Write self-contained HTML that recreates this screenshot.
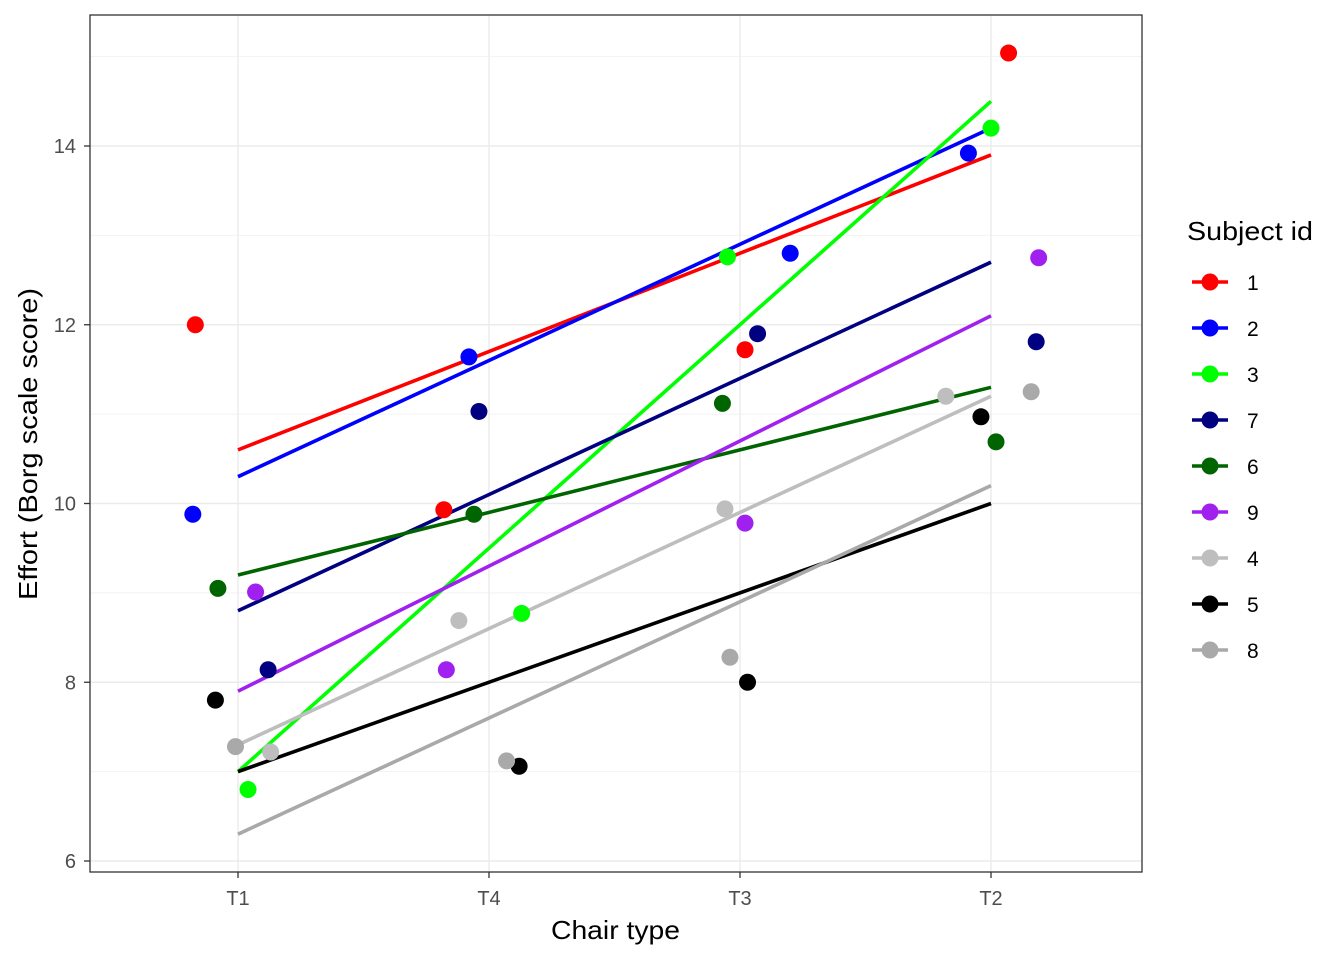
<!DOCTYPE html>
<html><head><meta charset="utf-8"><style>
body{margin:0;background:#fff;font-family:"Liberation Sans",Arial,sans-serif}
</style></head><body>
<svg id="chart" width="1344" height="960" xmlns="http://www.w3.org/2000/svg">
<rect width="1344" height="960" fill="#fff"/>
<g id="grid"></g>
<g id="lines"></g>
<g id="points"></g>
<rect x="90" y="15" width="1052" height="857" fill="none" stroke="#333" stroke-width="1.3"/>
<g id="axes"></g>
<text x="551" y="939" font-size="26" textLength="129" lengthAdjust="spacingAndGlyphs" fill="#000">Chair type</text>
<text transform="translate(37,444) rotate(-90)" font-size="26" text-anchor="middle" textLength="312" lengthAdjust="spacingAndGlyphs" fill="#000">Effort (Borg scale score)</text>
<text x="1187" y="240" font-size="26" textLength="126" lengthAdjust="spacingAndGlyphs" fill="#000">Subject id</text>
<g id="legend"></g>
</svg>
<script>
const categories=["T1","T4","T3","T2"];
const subjects=["1","2","3","7","6","9","4","5","8"];
const colors=["#FF0000","#0000FF","#00FF00","#000080","#006400","#A020F0","#BEBEBE","#000000","#A9A9A9"];
const lineStart=[10.6,10.3,7.0,8.8,9.2,7.9,7.3,7.0,6.3];
const lineEnd=[13.9,14.2,14.5,12.7,11.3,12.1,11.2,10.0,10.2];
const pointValues=[
[12.0,9.93,11.72,15.04],
[9.88,11.64,12.8,13.92],
[6.8,8.77,12.76,14.2],
[8.14,11.03,11.9,11.81],
[9.05,9.88,11.12,10.69],
[9.01,8.14,9.78,12.75],
[7.22,8.69,9.94,11.2],
[7.8,7.06,8.0,10.97],
[7.28,7.12,8.28,11.25]];
const jitter=[
[-0.17,-0.18,0.02,0.07],
[-0.18,-0.08,0.2,-0.09],
[0.04,0.13,-0.05,0],
[0.12,-0.04,0.07,0.18],
[-0.08,-0.06,-0.07,0.02],
[0.07,-0.17,0.02,0.19],
[0.13,-0.12,-0.06,-0.18],
[-0.09,0.12,0.03,-0.04],
[-0.01,0.07,-0.04,0.16]];
const yTicks=[6,8,10,12,14];
const yMinor=[7,9,11,13,15];

const NS="http://www.w3.org/2000/svg";
const xs=i=>238+i*251;
const ys=v=>861-(v-6)*89.375;
function mk(tag,attrs,parent){const e=document.createElementNS(NS,tag);for(const k in attrs)e.setAttribute(k,attrs[k]);parent.appendChild(e);return e;}
const grid=document.getElementById('grid'),lines=document.getElementById('lines'),pts=document.getElementById('points'),axes=document.getElementById('axes'),leg=document.getElementById('legend');
yMinor.forEach(v=>{const l=mk('line',{x1:90,x2:1142,y1:ys(v),y2:ys(v),stroke:'#F2F2F2','stroke-width':1},grid);

});
yTicks.forEach(v=>{const l=mk('line',{x1:90,x2:1142,y1:ys(v),y2:ys(v),stroke:'#EBEBEB','stroke-width':1.4},grid);


const t=mk('line',{x1:84,x2:90,y1:ys(v),y2:ys(v),stroke:'#333','stroke-width':1.3},axes);


const tx=mk('text',{x:76,y:ys(v)+7,'font-size':20,'text-anchor':'end',fill:'#4D4D4D'},axes);tx.textContent=v;

});
categories.forEach((c,i)=>{const l=mk('line',{x1:xs(i),x2:xs(i),y1:15,y2:872,stroke:'#EBEBEB','stroke-width':1.4},grid);


const t=mk('line',{x1:xs(i),x2:xs(i),y1:872,y2:878,stroke:'#333','stroke-width':1.3},axes);


const tx=mk('text',{x:xs(i),y:905,'font-size':20,'text-anchor':'middle',fill:'#4D4D4D'},axes);tx.textContent=c;

});
subjects.forEach((s,k)=>{
 const l=mk('line',{x1:xs(0),x2:xs(3),y1:ys(lineStart[k]),y2:ys(lineEnd[k]),stroke:colors[k],'stroke-width':3.6},lines);
 
 
 pointValues[k].forEach((v,i)=>{const c=mk('circle',{cx:xs(i+jitter[k][i]),cy:ys(v),r:8.5,fill:colors[k]},pts);
 
 });
 const y=282+k*46;
 const g=mk('g',{},leg);
 
 
 mk('line',{x1:1192,x2:1228,y1:y,y2:y,stroke:colors[k],'stroke-width':3.6},g);
 mk('circle',{cx:1210,cy:y,r:8.5,fill:colors[k]},g);
 const t=mk('text',{x:1247,y:y+8,'font-size':21,fill:'#000'},g);t.textContent=s;
});
</script>
</body></html>
